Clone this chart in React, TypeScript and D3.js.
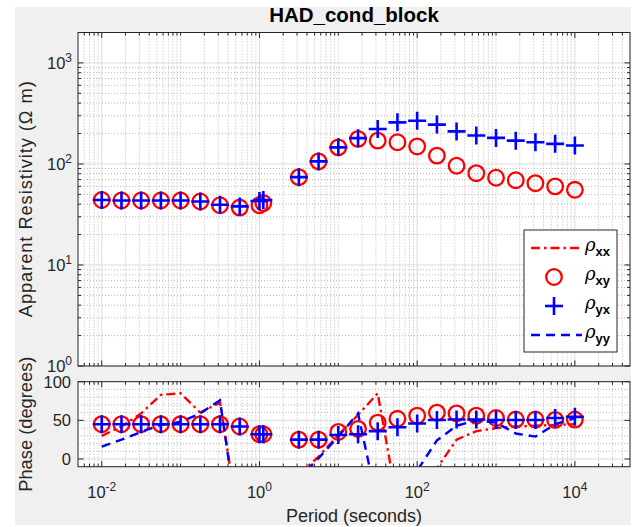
import React from 'react';
import * as d3 from 'd3';

const periods = [0.01, 0.0178, 0.0316, 0.0562, 0.1, 0.178, 0.316, 0.562, 1.0, 1.12, 3.16, 5.62, 10, 17.8, 31.6, 56.2, 100, 178, 316, 562, 1000, 1780, 3160, 5620, 10000];
const rhoXY = [44, 43.5, 43.5, 43.5, 43.5, 42.5, 39, 37, 39, 41, 74, 106, 146, 177, 170, 164, 149, 121, 96, 81, 73, 69, 64.5, 60, 55.5];
const rhoYX = [44, 43.5, 43.5, 43.5, 43.5, 42.5, 39.5, 38, 43, 44, 74, 106, 146, 180, 222, 258, 268, 245, 210, 191, 181, 170, 164, 158, 152];
const phaseXX = [30, 42, 59, 83, 85, 60, 73, -90, -60, -50, -20, 3, 31, 57, 85, -58, -40, -12, 25, 36, 40, 42, 43, 44, 45];
const phaseXY = [45, 45, 45, 45, 45, 45, 45, 42, 32, 32, 25, 25, 35, 39, 47, 52, 56, 60, 59, 56, 53, 51, 51, 50.5, 51];
const phaseYX = [45, 45, 45, 45, 45, 45, 45, 42, 32, 32, 25, 25, 31, 32, 36, 41, 46, 50.5, 51, 51, 50.5, 50.5, 50.5, 53, 54.5];
const phaseYY = [16, 25, 35, 44, 48, 59, 76, -100, -80, -70, -25, 1, 29, 59, -60, -40, -15, 24, 43, 50, 47, 33, 29, 45, 53];

const xMajor = [-2, 0, 2, 4];
const rhoMajor = [0, 1, 2, 3];
const phaseMajor = [0, 50, 100];
const legendLabels = ['xx', 'xy', 'yx', 'yy'];
const titleText = 'HAD_cond_block';

const AX = '#262626';
const FONT = 'Liberation Sans, Arial, Helvetica, sans-serif';

export default function App() {
  const X0 = 78, X1 = 630;
  const T0 = 32.5, T1 = 366;
  const B0 = 381.7, B1 = 466.7;
  const x = d3.scaleLog().domain([0.005, 50000]).range([X0, X1]);
  const yR = d3.scaleLog().domain([1, 2000]).range([T1, T0]);
  const yP = d3.scaleLinear().domain([-10, 100]).range([B1, B0]);

  const xMinor: number[] = [];
  for (let d = -3; d <= 4; d++) for (let k = 1; k <= 9; k++) {
    const v = k * Math.pow(10, d);
    if (v > 0.005 && v < 50000 && !(k === 1 && xMajor.includes(d))) xMinor.push(v);
  }
  const yMinor: number[] = [];
  for (let d = 0; d <= 3; d++) for (let k = 2; k <= 9; k++) {
    const v = k * Math.pow(10, d);
    if (v < 2000) yMinor.push(v);
  }
  const pMinor: number[] = [];
  for (let v = -10; v <= 100; v += 10) if (!phaseMajor.includes(v)) pMinor.push(v);

  const lineP = (vals: number[]) =>
    d3.line<number>().x((_, i) => x(periods[i])).y((v) => yP(v))(vals) || '';

  const xGridV = (y0: number, y1: number) => (
    <g>
      {xMinor.map((v, i) => (
        <line key={'xm' + i} x1={x(v)} x2={x(v)} y1={y0} y2={y1} stroke="#b8b8b8" strokeWidth={1} strokeDasharray="1,2" />
      ))}
      {xMajor.map((d) => (
        <line key={'xM' + d} x1={x(Math.pow(10, d))} x2={x(Math.pow(10, d))} y1={y0} y2={y1} stroke="#dcdcdc" strokeWidth={1} />
      ))}
    </g>
  );

  const xTicks = (y0: number, y1: number) => (
    <g stroke={AX} strokeWidth={1}>
      {xMinor.map((v, i) => (
        <g key={'t' + i}>
          <line x1={x(v)} x2={x(v)} y1={y1} y2={y1 - 3} />
          <line x1={x(v)} x2={x(v)} y1={y0} y2={y0 + 3} />
        </g>
      ))}
      {xMajor.map((d) => (
        <g key={'T' + d}>
          <line x1={x(Math.pow(10, d))} x2={x(Math.pow(10, d))} y1={y1} y2={y1 - 5.5} />
          <line x1={x(Math.pow(10, d))} x2={x(Math.pow(10, d))} y1={y0} y2={y0 + 5.5} />
        </g>
      ))}
    </g>
  );

  const circleMarkers = (vals: number[], yS: (v: number) => number) =>
    vals.map((v, i) => (
      <circle key={'c' + i} cx={x(periods[i])} cy={yS(v)} r={7.8} fill="none" stroke="#ff0000" strokeWidth={2.3} />
    ));
  const plusMarkers = (vals: number[], yS: (v: number) => number) =>
    vals.map((v, i) => {
      const cx = x(periods[i]);
      const cy = yS(v);
      return (
        <g key={'p' + i} stroke="#0000ff" strokeWidth={2.6}>
          <line x1={cx - 9} x2={cx + 9} y1={cy} y2={cy} />
          <line x1={cx} x2={cx} y1={cy - 9} y2={cy + 9} />
        </g>
      );
    });

  const legY = [248, 277, 306, 335];

  return (
    <svg width={635} height={527} style={{ position: 'absolute', left: 0, top: 0 }} fontFamily={FONT}>
      <rect x={0} y={0} width={635} height={527} fill="#ffffff" />
      <rect x={15} y={7} width={616} height={518} fill="#f0f0f0" />
      <defs>
        <clipPath id="clipB">
          <rect x={X0} y={B0} width={X1 - X0} height={B1 - B0} />
        </clipPath>
        <clipPath id="clipT">
          <rect x={X0} y={T0} width={X1 - X0} height={T1 - T0} />
        </clipPath>
      </defs>

      {/* Top panel */}
      <rect x={X0} y={T0} width={X1 - X0} height={T1 - T0} fill="#ffffff" />
      {xGridV(T0, T1)}
      {yMinor.map((v, i) => (
        <line key={'ym' + i} x1={X0} x2={X1} y1={yR(v)} y2={yR(v)} stroke="#b8b8b8" strokeWidth={1} strokeDasharray="1,2" />
      ))}
      {rhoMajor.map((d) => (
        <line key={'yM' + d} x1={X0} x2={X1} y1={yR(Math.pow(10, d))} y2={yR(Math.pow(10, d))} stroke="#dcdcdc" strokeWidth={1} />
      ))}
      <g clipPath="url(#clipT)">
        {circleMarkers(rhoXY, yR)}
        {plusMarkers(rhoYX, yR)}
      </g>
      <rect x={X0} y={T0} width={X1 - X0} height={T1 - T0} fill="none" stroke={AX} strokeWidth={1} />
      {xTicks(T0, T1)}
      <g stroke={AX} strokeWidth={1}>
        {yMinor.map((v, i) => (
          <g key={'ymt' + i}>
            <line x1={X0} x2={X0 + 3} y1={yR(v)} y2={yR(v)} />
            <line x1={X1} x2={X1 - 3} y1={yR(v)} y2={yR(v)} />
          </g>
        ))}
        {rhoMajor.map((d) => (
          <g key={'yMt' + d}>
            <line x1={X0} x2={X0 + 5.5} y1={yR(Math.pow(10, d))} y2={yR(Math.pow(10, d))} />
            <line x1={X1} x2={X1 - 5.5} y1={yR(Math.pow(10, d))} y2={yR(Math.pow(10, d))} />
          </g>
        ))}
      </g>
      {rhoMajor.map((d) => (
        <text key={'yl' + d} x={72} y={yR(Math.pow(10, d)) + 6} textAnchor="end" fontSize={16.5} fill={AX}>
          10<tspan dy={-7} fontSize={12}>{d}</tspan>
        </text>
      ))}

      {/* Bottom panel */}
      <rect x={X0} y={B0} width={X1 - X0} height={B1 - B0} fill="#ffffff" />
      {xGridV(B0, B1)}
      {pMinor.map((v) => (
        <line key={'pm' + v} x1={X0} x2={X1} y1={yP(v)} y2={yP(v)} stroke="#b8b8b8" strokeWidth={1} strokeDasharray="1,2" />
      ))}
      {phaseMajor.map((v) => (
        <line key={'pM' + v} x1={X0} x2={X1} y1={yP(v)} y2={yP(v)} stroke="#dcdcdc" strokeWidth={1} />
      ))}
      <g clipPath="url(#clipB)">
        <path d={lineP(phaseXX)} fill="none" stroke="#ff0000" strokeWidth={2.4} strokeDasharray="9,4,2.5,4" />
        {circleMarkers(phaseXY, yP)}
        {plusMarkers(phaseYX, yP)}
        <path d={lineP(phaseYY)} fill="none" stroke="#0000ff" strokeWidth={2.4} strokeDasharray="9,6" />
      </g>
      <rect x={X0} y={B0} width={X1 - X0} height={B1 - B0} fill="none" stroke={AX} strokeWidth={1} />
      {xTicks(B0, B1)}
      <g stroke={AX} strokeWidth={1}>
        {phaseMajor.map((v) => (
          <g key={'pMt' + v}>
            <line x1={X0} x2={X0 + 5.5} y1={yP(v)} y2={yP(v)} />
            <line x1={X1} x2={X1 - 5.5} y1={yP(v)} y2={yP(v)} />
          </g>
        ))}
      </g>
      {phaseMajor.map((v) => (
        <text key={'pl' + v} x={71} y={yP(v) + 6} textAnchor="end" fontSize={16.5} fill={AX}>
          {v}
        </text>
      ))}
      {xMajor.map((d) => (
        <text key={'xl' + d} x={x(Math.pow(10, d))} y={498} textAnchor="middle" fontSize={16.5} fill={AX}>
          10<tspan dy={-7} fontSize={12}>{d}</tspan>
        </text>
      ))}

      {/* Labels */}
      <text x={354} y={522} textAnchor="middle" fontSize={18} fill={AX}>Period (seconds)</text>
      <text transform={`translate(32,${(T0 + T1) / 2}) rotate(-90)`} textAnchor="middle" fontSize={18.3} fill={AX}
        textLength={236} lengthAdjust="spacing">
        Apparent Resistivity (Ω m)
      </text>
      <text transform={`translate(32,${(B0 + B1) / 2}) rotate(-90)`} textAnchor="middle" fontSize={18.3} fill={AX}>
        Phase (degrees)
      </text>
      <text x={354} y={22} textAnchor="middle" fontSize={20.5} fontWeight="bold" fill="#000">{titleText}</text>

      {/* Legend */}
      <rect x={524} y={230} width={93} height={122} fill="#ffffff" stroke={AX} strokeWidth={1} />
      <line x1={531} x2={582} y1={legY[0]} y2={legY[0]} stroke="#ff0000" strokeWidth={2.4} strokeDasharray="9,4,2.5,4" />
      <circle cx={554} cy={legY[1]} r={7.8} fill="none" stroke="#ff0000" strokeWidth={2.3} />
      <g stroke="#0000ff" strokeWidth={2.6}>
        <line x1={545} x2={563} y1={legY[2]} y2={legY[2]} />
        <line x1={554} x2={554} y1={legY[2] - 9} y2={legY[2] + 9} />
      </g>
      <line x1={531} x2={582} y1={legY[3]} y2={legY[3]} stroke="#0000ff" strokeWidth={2.4} strokeDasharray="9,6" />
      {legendLabels.map((s, i) => (
        <text key={'lg' + i} x={585} y={legY[i] + 3} fontSize={18} fill="#000">
          <tspan fontStyle="italic" fontFamily="DejaVu Serif, serif">ρ</tspan>
          <tspan dy={5} fontSize={13} fontWeight="bold">{s}</tspan>
        </text>
      ))}
    </svg>
  );
}
